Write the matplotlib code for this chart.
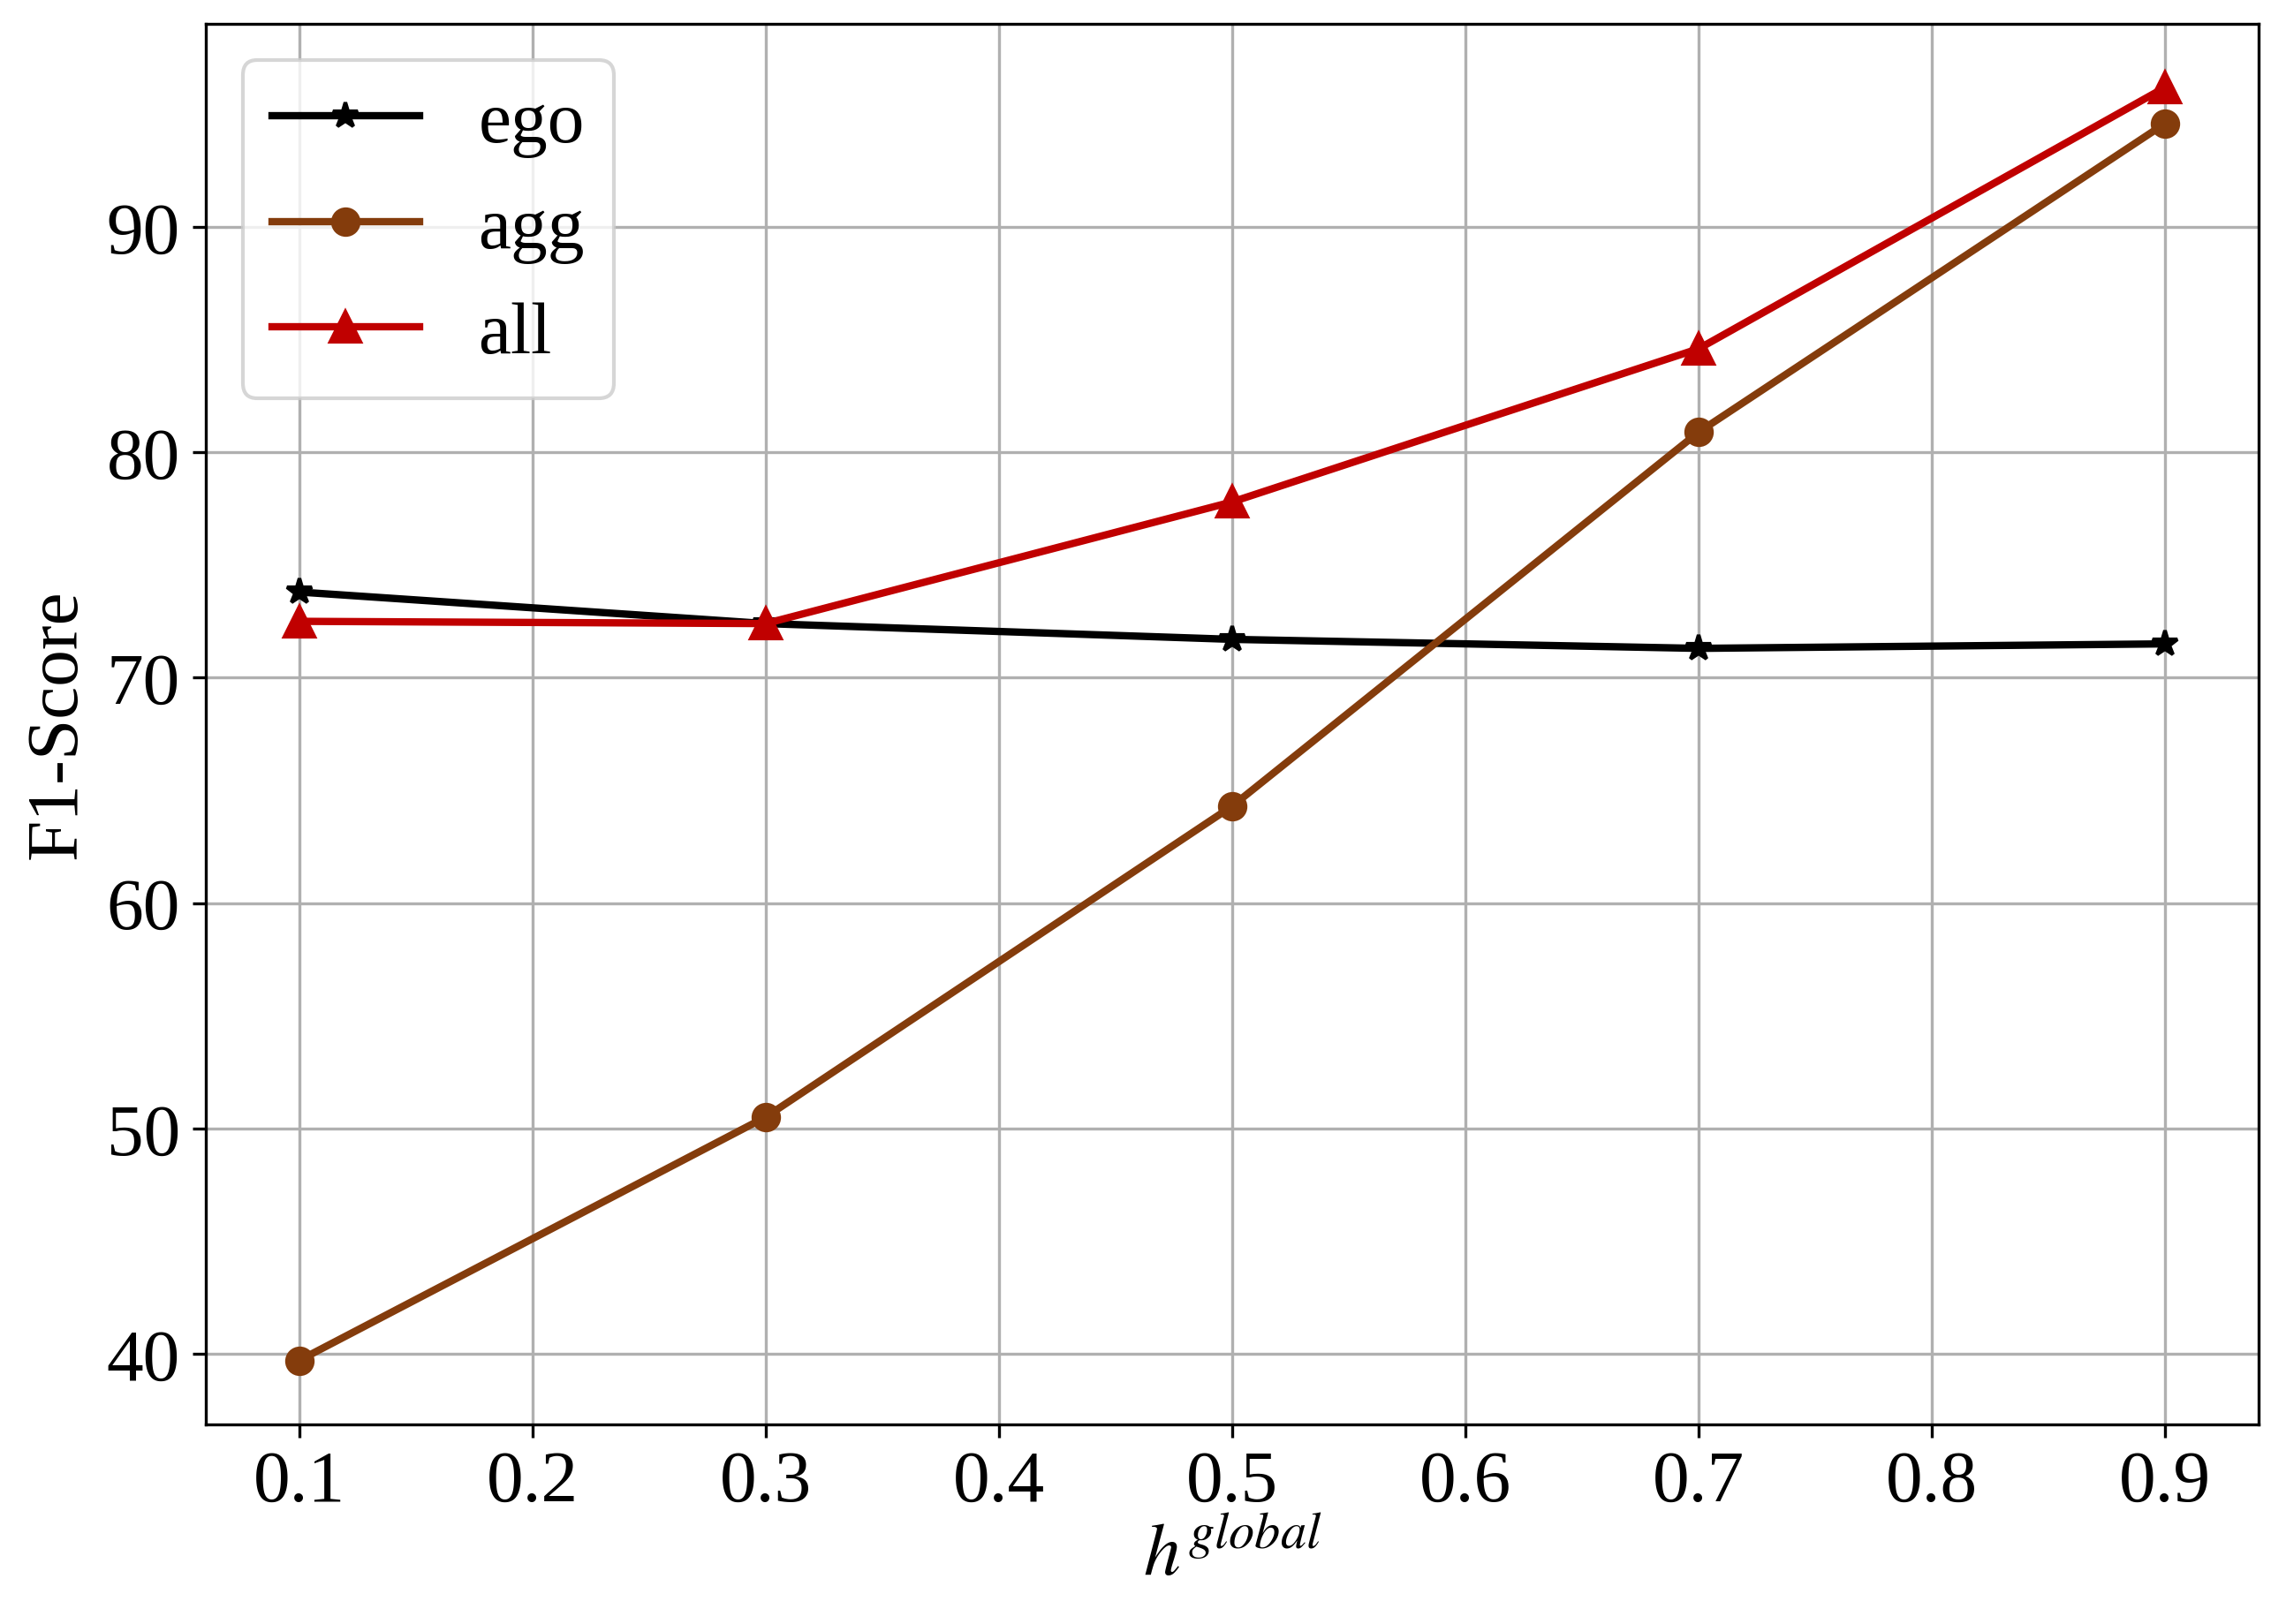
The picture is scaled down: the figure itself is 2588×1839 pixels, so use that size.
import matplotlib

matplotlib.use("Agg")
import matplotlib.pyplot as plt

plt.rcParams["font.family"] = ["Liberation Serif", "DejaVu Serif"]
plt.rcParams["mathtext.fontset"] = "stix"

h_global = [0.1, 0.3, 0.5, 0.7, 0.9]
ego = [73.8, 72.4, 71.7, 71.3, 71.5]
agg = [39.7, 50.5, 64.3, 80.9, 94.6]
all_ = [72.5, 72.4, 77.8, 84.6, 96.2]
series_labels = ["ego", "agg", "all"]


def main() -> None:
    fig = plt.figure(figsize=(8.627, 6.133), dpi=300)
    ax = fig.add_axes([0.090, 0.123, 0.898, 0.862])

    ax.plot(h_global, ego, color="black", marker="*", markersize=7, linewidth=2, label=series_labels[0])
    ax.plot(h_global, agg, color="#843C0C", marker="o", markersize=7, linewidth=2, label=series_labels[1])
    ax.plot(h_global, all_, color="#C00000", marker="^", markersize=8, linewidth=2, label=series_labels[2])

    ax.set_xticks([0.1, 0.2, 0.3, 0.4, 0.5, 0.6, 0.7, 0.8, 0.9])
    ax.set_yticks([40, 50, 60, 70, 80, 90])
    ax.tick_params(labelsize=20)
    ax.set_xlabel("$h^{global}$", fontsize=20, labelpad=2)
    ax.set_ylabel("F1-Score", fontsize=20)
    ax.grid(True)
    ax.legend(loc="upper left", fontsize=20, labelspacing=0.52)

    fig.savefig("out.png", dpi=300)
    plt.close(fig)


if __name__ == "__main__":
    main()
